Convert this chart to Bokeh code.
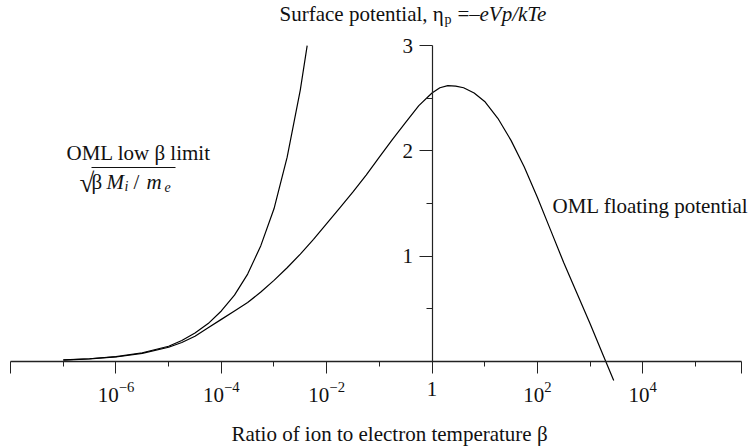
from bokeh.plotting import figure
from bokeh.models import Range1d, FixedTicker, Label, BoxAnnotation
from bokeh.embed import file_html
from bokeh.resources import INLINE

# ---- data (log10 beta, eta) ----
float_log_beta = [-7.0, -6.5, -6.0, -5.5, -5.0, -4.75, -4.5, -4.25, -4.0, -3.75, -3.5, -3.25,
                  -3.0, -2.75, -2.5, -2.25, -2.0, -1.75, -1.5, -1.25, -1.0, -0.75, -0.5, -0.25,
                  0.0, 0.15, 0.3, 0.45, 0.6, 0.8, 1.0, 1.25, 1.5, 1.75, 2.0, 2.25, 2.5, 2.75,
                  3.0, 3.25, 3.45]
float_eta = [0.013, 0.024, 0.043, 0.077, 0.135, 0.18, 0.24, 0.32, 0.40, 0.48, 0.56, 0.66,
             0.77, 0.89, 1.02, 1.16, 1.31, 1.46, 1.61, 1.77, 1.94, 2.11, 2.27, 2.43,
             2.55, 2.60, 2.62, 2.615, 2.60, 2.55, 2.47, 2.31, 2.10, 1.85, 1.56, 1.25, 0.94, 0.65,
             0.36, 0.06, -0.18]

limit_log_beta = [-7.0, -6.5, -6.0, -5.5, -5.0, -4.75, -4.5, -4.25, -4.0, -3.75, -3.5, -3.25,
                  -3.0, -2.75, -2.5, -2.37]
limit_eta = [0.015, 0.026, 0.047, 0.083, 0.145, 0.20, 0.27, 0.36, 0.48, 0.63, 0.83, 1.10,
             1.45, 1.94, 2.58, 3.0]

x_major_exp = [-6, -4, -2, 0, 2, 4]
x_minor_exp = [-7, -5, -3, -1, 1, 3, 5]
x_end_exp = [-8, 5.87]
y_major = [1, 2, 3]
y_minor = [0.5, 1.5, 2.5]

# ---- pixel geometry helpers (for text placement) ----
W, H = 755, 447
X0, DX = 431.5, 52.67   # pixel of beta=1, pixels per decade
Y0, DY = 361.0, 105.3   # pixel of eta=0, pixels per unit


def bx(px):
    return 10 ** ((px - X0) / DX)


def ey(py):
    return (Y0 - py) / DY


FONT = "Liberation Serif"

p = figure(width=W, height=H, x_axis_type="log",
           x_range=Range1d(bx(0), bx(W)), y_range=Range1d(ey(H), ey(0)),
           output_backend="svg", toolbar_location=None, min_border=0)
p.grid.visible = False
p.outline_line_color = None
p.background_fill_color = "white"
p.border_fill_color = "white"

p.line([10 ** v for v in float_log_beta], float_eta, line_color="black", line_width=1.2)
p.line([10 ** v for v in limit_log_beta], limit_eta, line_color="black", line_width=1.2)

# x axis at eta = 0
xa = p.xaxis[0]
xa.fixed_location = 0
xa.bounds = (10.0 ** x_end_exp[0], 10.0 ** x_end_exp[1])
xa.ticker = FixedTicker(ticks=[10.0 ** e for e in x_end_exp[:1] + x_major_exp + x_end_exp[1:]],
                        minor_ticks=[10.0 ** e for e in x_minor_exp])
xa.major_label_overrides = {10.0 ** x_end_exp[0]: "", 1.0: "1", 10.0 ** x_end_exp[1]: ""}
xa.axis_line_width = 1.5
xa.axis_line_color = "#222222"
xa.major_tick_in = 0
xa.major_tick_out = 12
xa.minor_tick_in = 0
xa.minor_tick_out = 5
xa.major_tick_line_color = "#222222"
xa.minor_tick_line_color = "#222222"
xa.major_label_text_font = FONT
xa.major_label_text_font_size = "21px"
xa.major_label_text_color = "#111111"
xa.major_label_standoff = 8

# y axis at beta = 1
ya = p.yaxis[0]
ya.fixed_location = 1
ya.bounds = (0, 3)
ya.ticker = FixedTicker(ticks=y_major, minor_ticks=y_minor)
ya.axis_line_width = 1.2
ya.axis_line_color = "#222222"
ya.major_tick_in = 0
ya.major_tick_out = 13
ya.minor_tick_in = 0
ya.minor_tick_out = 6
ya.major_tick_line_color = "#222222"
ya.minor_tick_line_color = "#222222"
ya.major_label_text_font = FONT
ya.major_label_text_font_size = "21px"
ya.major_label_text_color = "#111111"
ya.major_label_standoff = 6


def lab(px, py, text, size="21px", style="normal", align="left"):
    p.add_layout(Label(x=bx(px), y=ey(py), text=text, text_font=FONT,
                       text_font_size=size, text_font_style=style,
                       text_align=align, text_baseline="middle", text_color="#111111"))


# title
lab(279, 13, "Surface potential, η")
lab(444, 19, "p", size="14px")
lab(457, 13, "=–")
lab(479, 13, "eVp/kTe", style="italic")

# OML low beta limit
lab(66, 152, "OML low β limit")
lab(79, 182, "√", size="27px")
lab(91, 181, "β")
lab(106, 181, "M", style="italic")
lab(124, 186, "i", size="14px", style="italic")
lab(133, 181, "/")
lab(146, 181, "m", style="italic")
lab(164, 186, "e", size="14px", style="italic")
p.add_layout(BoxAnnotation(left=bx(91), right=bx(175), top=ey(166.5), bottom=ey(167.5),
                           fill_color="#111111", fill_alpha=1, line_color=None))

# floating potential label
lab(552, 205, "OML floating potential")

# x axis title
lab(389, 433, "Ratio of ion to electron temperature β", align="center")

open("out.html", "w").write(file_html(p, INLINE))
